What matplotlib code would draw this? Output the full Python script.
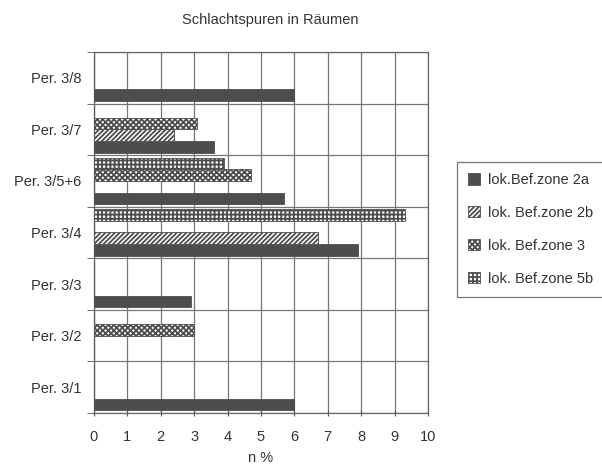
import matplotlib.pyplot as plt
import numpy as np

plt.rcParams['font.family'] = ['Liberation Sans', 'DejaVu Sans']
plt.rcParams['hatch.linewidth'] = 1.3
plt.rcParams['hatch.color'] = '#3a3a3a'

periods = ['Per. 3/1', 'Per. 3/2', 'Per. 3/3', 'Per. 3/4', 'Per. 3/5+6', 'Per. 3/7', 'Per. 3/8']
zone_2a = [6.0, 0, 2.9, 7.9, 5.7, 3.6, 6.0]
zone_2b = [0, 0, 0, 6.7, 0, 2.4, 0]
zone_3 = [0, 3.0, 0, 0, 4.7, 3.1, 0]
zone_5b = [0, 0, 0, 9.3, 3.9, 0, 0]

series = [
    ('lok.Bef.zone 2a', zone_2a, '#4d4d4d', None),
    ('lok. Bef.zone 2b', zone_2b, 'white', '///////'),
    ('lok. Bef.zone 3', zone_3, 'white', 'xxxxxx'),
    ('lok. Bef.zone 5b', zone_5b, 'white', '++++'),
]

fig = plt.figure(figsize=(6.02, 4.65), dpi=100)
ax = fig.add_axes([0.156, 0.112, 0.555, 0.776])

y = np.arange(len(periods))
h = 0.225
offsets = [-1.5 * h, -0.5 * h, 0.5 * h, 1.5 * h]
for (name, vals, fc, hatch), off in zip(series, offsets):
    ax.barh(y + off, vals, h, color=fc, edgecolor='#4d4d4d', hatch=hatch,
            linewidth=0.6, label=name, zorder=3)

ax.set_xlim(0, 10)
ax.set_ylim(-0.5, len(periods) - 0.5)
ax.set_xticks(range(0, 11))
ax.set_yticks(y)
ax.set_yticklabels(periods)
ax.set_yticks(np.arange(-0.5, len(periods)), minor=True)
ax.tick_params(axis='y', which='major', length=0, labelsize=10.5, colors='#333333', pad=9)
ax.tick_params(axis='y', which='minor', length=5, color='#555555')
ax.tick_params(axis='x', length=5, direction='inout', labelsize=10.5, colors='#333333',
               color='#555555', pad=10)
ax.grid(axis='x', color='#777777', linewidth=0.9, zorder=0)
ax.grid(axis='y', which='minor', color='#777777', linewidth=0.9, zorder=0)
for s in ax.spines.values():
    s.set_color('#666666')
    s.set_linewidth(0.9)

ax.set_xlabel('n %', fontsize=10.5, color='#333333', labelpad=5)
fig.text(0.449, 0.957, 'Schlachtspuren in Räumen', ha='center', va='center',
         fontsize=10.5, color='#333333')

handles, labels = ax.get_legend_handles_labels()
leg = fig.legend(handles, labels, loc='upper left',
                 bbox_to_anchor=(0.759, 0.652), frameon=True, fancybox=False,
                 edgecolor='#555555', fontsize=10.5, handlelength=0.85,
                 handleheight=0.85, labelspacing=1.3, borderpad=0.75,
                 handletextpad=0.55, borderaxespad=0)
leg.get_frame().set_linewidth(0.9)
for t in leg.get_texts():
    t.set_color('#333333')

fig.savefig('out.png', dpi=100)
